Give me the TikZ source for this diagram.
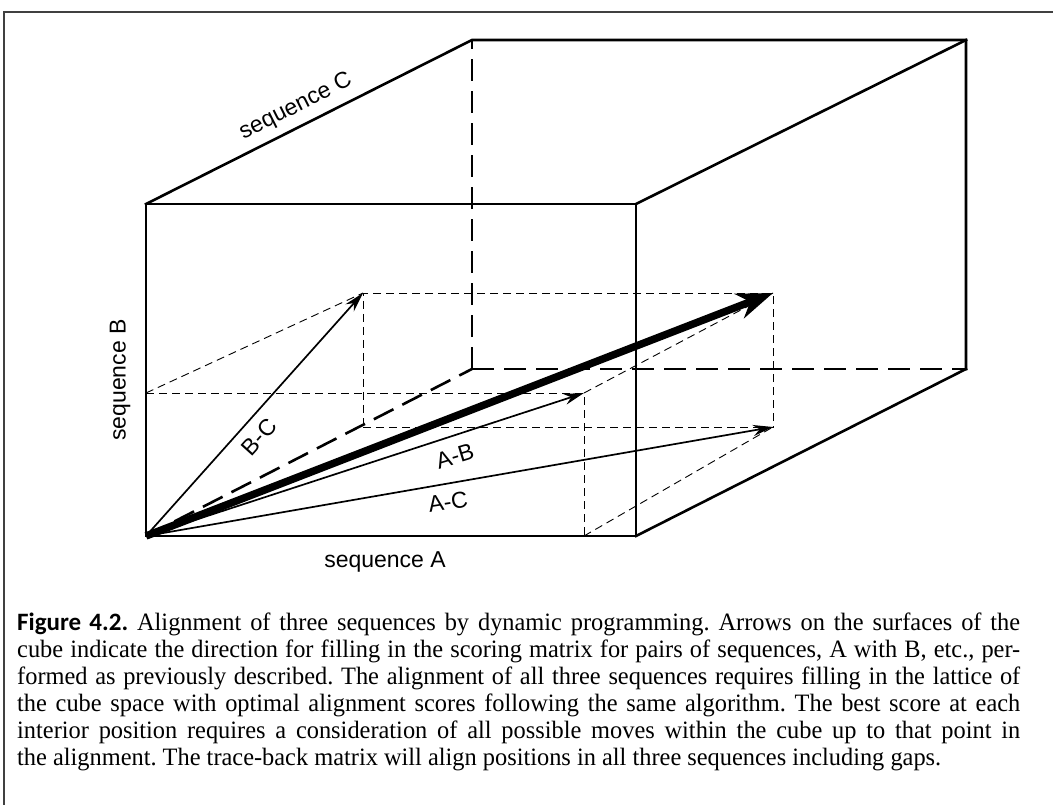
\documentclass[tikz,border=0pt]{standalone}
\usepackage{fontspec}
\setmainfont{Liberation Serif}[FakeStretch=0.975]
\newfontfamily\figfont{Carlito}
\newfontfamily\labfont{Liberation Sans}
\usetikzlibrary{arrows.meta}
\frenchspacing
\begin{document}
\begin{tikzpicture}[x=1pt,y=-1pt,
  edge/.style={line width=2.6pt, line cap=rect},
  hidden/.style={line width=2.6pt, dash pattern=on 22pt off 10pt},
  guide/.style={line width=0.9pt, dash pattern=on 8pt off 5pt},
  pairarrow/.style={line width=1.7pt, -{Stealth[length=20pt,width=11pt]}},
  mainarrow/.style={line width=7.5pt, -{Stealth[length=36pt,width=26pt]}},
  lab/.style={font=\labfont\fontsize{23}{27}\selectfont, inner sep=0pt},
  capline/.style={anchor=base west, inner sep=0pt, font=\fontsize{25}{27}\selectfont}
]
\useasboundingbox (0,0) rectangle (1053,805);
% frame
\draw[black!75, line width=1.3pt] (4,805) -- (4,12) -- (1053,12);
% cube corners
\coordinate (O) at (146,536);
\coordinate (FR) at (636,536);
\coordinate (FT) at (146,204);
\coordinate (FTR) at (636,204);
\coordinate (BL) at (472,369);
\coordinate (BR) at (966,369);
\coordinate (BT) at (472,40);
\coordinate (BTR) at (966,40);
% inner points
\coordinate (AB) at (584,393);
\coordinate (ABb) at (584,536);
\coordinate (Bax) at (146,393);
\coordinate (BC) at (363,293);
\coordinate (Cax) at (363,427);
\coordinate (AC) at (773,427);
\coordinate (ABC) at (773,293);
% guides
\draw[guide] (Bax) -- (AB) -- (ABb);
\draw[guide] (ABb) -- (AC);
\draw[guide] (Cax) -- (AC) -- (ABC) -- (BC) -- (Cax);
\draw[guide] (Bax) -- (BC);
\draw[guide] (AB) -- (ABC);
% hidden edges
\draw[hidden] (O) -- (BL);
\draw[hidden] (BL) -- (BR);
\draw[hidden] (BL) -- (BT);
% visible edges
\draw[edge] (O) -- (FR) -- (FTR) -- (FT) -- cycle;
\draw[edge] (FT) -- (BT) -- (BTR) -- (BR);
\draw[edge] (FTR) -- (BTR);
\draw[edge] (FR) -- (BR);
% arrows
\draw[pairarrow] (O) -- (BC);
\draw[pairarrow] (O) -- (AB);
\draw[pairarrow] (O) -- (AC);
\draw[mainarrow] (O) -- (ABC);
% labels
\node[lab, rotate=26.7] (labC) at (296,107) {sequence C};
\node[lab, rotate=90] (labB) at (120,380) {sequence B};
\node[lab] (labA) at (385,562) {sequence A};
\node[lab, rotate=48] (labBC) at (259,437) {B-C};
\node[lab, rotate=17] (labAB) at (455,456) {A-B};
\node[lab, rotate=9] (labAC) at (448,502) {A-C};
% caption
\node[capline] (c1) at (17,630) {\makebox[1003pt][s]{{\figfont\bfseries Figure 4.2.} Alignment of three sequences by dynamic programming. Arrows on the surfaces of the}};
\node[capline] (c2) at (17,657) {\makebox[1003pt][s]{cube indicate the direction for filling in the scoring matrix for pairs of sequences, A with B, etc., per-}};
\node[capline] (c3) at (17,684) {\makebox[1003pt][s]{formed as previously described. The alignment of all three sequences requires filling in the lattice of}};
\node[capline] (c4) at (17,711) {\makebox[1003pt][s]{the cube space with optimal alignment scores following the same algorithm. The best score at each}};
\node[capline] (c5) at (17,738) {\makebox[1003pt][s]{interior position requires a consideration of all possible moves within the cube up to that point in}};
\node[capline] (c6) at (17,765) {the alignment. The trace-back matrix will align positions in all three sequences including gaps.};
\end{tikzpicture}
\end{document}
